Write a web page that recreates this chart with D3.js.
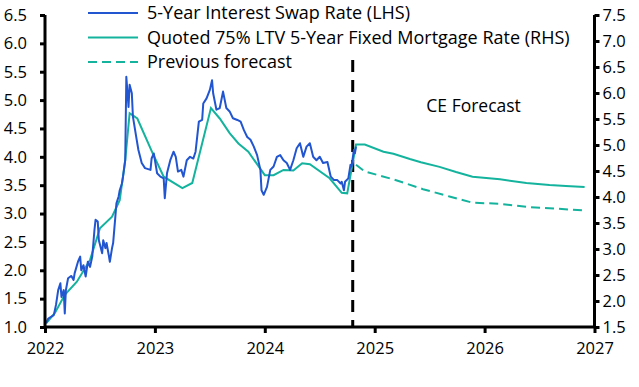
<!DOCTYPE html>
<html>
<head>
<meta charset="utf-8">
<script src="https://cdn.jsdelivr.net/npm/d3@7"></script>
<style>
  body { margin: 0; background: #fff; }
  text { font-family: "Open Sans", "Noto Sans", sans-serif; fill: #000; }
</style>
</head>
<body>
<script>
// 5-year swap rate (LHS), [year fraction, %]
var swapYears = [2022.01,2022.03,2022.08,2022.10,2022.12,2022.14,2022.15,2022.17,2022.18,2022.19,2022.21,2022.24,2022.26,2022.27,2022.30,2022.32,2022.33,2022.35,2022.37,2022.39,2022.41,2022.43,2022.45,2022.46,2022.48,2022.49,2022.52,2022.53,2022.55,2022.56,2022.58,2022.59,2022.61,2022.62,2022.64,2022.65,2022.67,2022.68,2022.70,2022.71,2022.73,2022.74,2022.76,2022.77,2022.79,2022.80,2022.83,2022.85,2022.88,2022.91,2022.96,2022.97,2022.99,2023.02,2023.05,2023.08,2023.09,2023.11,2023.14,2023.17,2023.19,2023.21,2023.24,2023.26,2023.29,2023.32,2023.35,2023.37,2023.40,2023.43,2023.44,2023.47,2023.50,2023.52,2023.53,2023.56,2023.59,2023.62,2023.65,2023.68,2023.71,2023.75,2023.78,2023.81,2023.84,2023.87,2023.90,2023.93,2023.96,2023.97,2023.99,2024.02,2024.05,2024.08,2024.11,2024.14,2024.17,2024.20,2024.23,2024.26,2024.29,2024.32,2024.35,2024.38,2024.41,2024.44,2024.47,2024.50,2024.53,2024.57,2024.60,2024.63,2024.66,2024.69,2024.70,2024.72,2024.73,2024.76,2024.78,2024.79,2024.81,2024.82,2024.83];
var swapRate = [1.07,1.15,1.21,1.39,1.65,1.77,1.53,1.65,1.24,1.65,1.86,1.90,1.83,1.95,2.15,2.24,2.00,2.09,1.89,2.15,2.06,2.24,2.71,2.89,2.86,2.53,2.30,2.53,2.39,2.48,2.27,2.15,2.39,2.48,2.94,3.18,3.30,3.41,3.53,3.65,3.94,5.41,4.88,5.27,5.12,4.71,4.35,4.12,3.89,3.80,3.77,3.97,4.06,3.71,3.65,3.62,3.27,3.71,3.94,4.09,4.00,3.74,3.77,3.65,3.94,4.00,3.97,4.09,4.62,4.65,4.94,5.03,5.18,5.35,5.12,4.83,4.86,5.15,4.86,4.80,4.68,4.65,4.62,4.47,4.35,4.30,4.18,4.03,3.77,3.41,3.33,3.47,3.77,3.83,4.00,4.03,3.94,3.89,3.77,3.94,4.15,4.24,4.00,4.18,4.24,4.00,3.94,4.00,3.89,3.91,3.65,3.59,3.59,3.53,3.56,3.41,3.56,3.62,3.86,3.83,4.12,4.06,4.18];

// quoted 75% LTV 5-year fixed mortgage rate (RHS), actual + CE forecast
var mortYears = [2022.01,2022.09,2022.18,2022.29,2022.41,2022.50,2022.61,2022.68,2022.73,2022.77,2022.84,2022.98,2023.08,2023.25,2023.34,2023.51,2023.59,2023.68,2023.76,2023.85,2024.00,2024.08,2024.17,2024.26,2024.34,2024.41,2024.59,2024.70,2024.75,2024.83,2024.91,2025.08,2025.17,2025.32,2025.42,2025.59,2025.74,2025.89,2026.14,2026.38,2026.59,2026.74,2026.91];
var mortRate = [1.57,1.77,2.12,2.37,2.79,3.40,3.62,3.94,4.71,5.61,5.51,4.84,4.39,4.17,4.27,5.71,5.51,5.23,5.03,4.87,4.42,4.42,4.52,4.51,4.65,4.63,4.36,4.08,4.07,5.01,5.01,4.87,4.83,4.73,4.67,4.58,4.48,4.39,4.34,4.27,4.23,4.21,4.19];

// previous forecast (RHS)
var prevYears = [2024.83,2024.91,2025.17,2025.44,2025.68,2025.89,2026.14,2026.38,2026.63,2026.91];
var prevRate = [4.62,4.49,4.34,4.15,4.01,3.89,3.87,3.81,3.78,3.74];

var forecastStart = 2024.80;
var yearTicks = [2022, 2023, 2024, 2025, 2026, 2027];
var leftTicks = [1.0, 1.5, 2.0, 2.5, 3.0, 3.5, 4.0, 4.5, 5.0, 5.5, 6.0, 6.5];
var rightTicks = [1.5, 2.0, 2.5, 3.0, 3.5, 4.0, 4.5, 5.0, 5.5, 6.0, 6.5, 7.0, 7.5];

var legendLabels = ["5-Year Interest Swap Rate (LHS)", "Quoted 75% LTV 5-Year Fixed Mortgage Rate (RHS)", "Previous forecast"];

var blue = "#2255d0", teal = "#14b39e";

var svgWidth = 639, svgHeight = 387;
var margin = {top: 15, right: 44.5, bottom: 60, left: 45};
var chartWidth = svgWidth - margin.left - margin.right;
var chartHeight = svgHeight - margin.top - margin.bottom;

var svg = d3.select("body").append("svg")
    .attr("width", svgWidth)
    .attr("height", svgHeight);

var chartGroup = svg.append("g")
    .attr("transform", `translate(${margin.left}, ${margin.top})`);

var x = d3.scaleLinear().domain([2022, 2027]).range([0, chartWidth]);
var yL = d3.scaleLinear().domain([1, 6.5]).range([chartHeight, 0]);
var yR = d3.scaleLinear().domain([1.5, 7.5]).range([chartHeight, 0]);

// forecast divider
chartGroup.append("line")
    .attr("x1", x(forecastStart)).attr("x2", x(forecastStart))
    .attr("y1", 45).attr("y2", chartHeight)
    .attr("stroke", "#000")
    .attr("stroke-width", 3)
    .attr("stroke-dasharray", "12,8");

chartGroup.append("text")
    .attr("x", x(2025.9))
    .attr("y", 97)
    .style("text-anchor", "middle")
    .style("font-size", "17.5px")
    .text("CE Forecast");

// lines
var swapData = swapYears.map(function(d, i) { return [d, swapRate[i]]; });
var mortData = mortYears.map(function(d, i) { return [d, mortRate[i]]; });
var prevData = prevYears.map(function(d, i) { return [d, prevRate[i]]; });

chartGroup.append("path")
    .datum(prevData)
    .attr("fill", "none")
    .attr("stroke", teal)
    .attr("stroke-width", 2)
    .attr("stroke-dasharray", "9,5")
    .attr("d", d3.line().x(d => x(d[0])).y(d => yR(d[1])));

chartGroup.append("path")
    .datum(mortData)
    .attr("fill", "none")
    .attr("stroke", teal)
    .attr("stroke-width", 2)
    .attr("d", d3.line().x(d => x(d[0])).y(d => yR(d[1])));

chartGroup.append("path")
    .datum(swapData)
    .attr("fill", "none")
    .attr("stroke", blue)
    .attr("stroke-width", 2)
    .attr("stroke-linejoin", "round")
    .attr("d", d3.line().x(d => x(d[0])).y(d => yL(d[1])));

// axes
var leftAxis = chartGroup.append("g")
    .call(d3.axisLeft(yL).tickValues(leftTicks).tickFormat(d3.format(".1f")).tickSize(5).tickPadding(13));
var rightAxis = chartGroup.append("g")
    .attr("transform", `translate(${chartWidth}, 0)`)
    .call(d3.axisRight(yR).tickValues(rightTicks).tickFormat(d3.format(".1f")).tickSize(5).tickPadding(3));
var bottomAxis = chartGroup.append("g")
    .attr("transform", `translate(0, ${chartHeight})`)
    .call(d3.axisBottom(x).tickValues(yearTicks).tickFormat(d3.format("d")).tickSize(6).tickPadding(9));

[leftAxis, rightAxis, bottomAxis].forEach(function(a) {
    a.attr("font-family", null).attr("font-size", null);
    a.select(".domain").attr("stroke", "#000").attr("stroke-width", 3);
    a.selectAll(".tick line").attr("stroke", "#000").attr("stroke-width", 3);
    a.selectAll("text").style("font-size", "16.5px");
});
leftAxis.select(".domain").attr("d", `M0,0V${chartHeight}`);
rightAxis.select(".domain").attr("d", `M0,0V${chartHeight}`);
bottomAxis.select(".domain").attr("d", `M0,0H${chartWidth}`);

// legend
var legendColors = [blue, teal, teal];
var legendDash = [null, null, "9,5"];
var legend = svg.append("g").attr("transform", "translate(88, 13)");
legendLabels.forEach(function(label, i) {
    var row = legend.append("g").attr("transform", `translate(0, ${i * 24.5})`);
    row.append("line")
        .attr("x1", 0).attr("x2", 50)
        .attr("stroke", legendColors[i])
        .attr("stroke-width", 2)
        .attr("stroke-dasharray", legendDash[i]);
    row.append("text")
        .attr("x", 59)
        .attr("dy", "0.35em")
        .style("font-size", "18px")
        .text(label);
});
</script>
</body>
</html>
